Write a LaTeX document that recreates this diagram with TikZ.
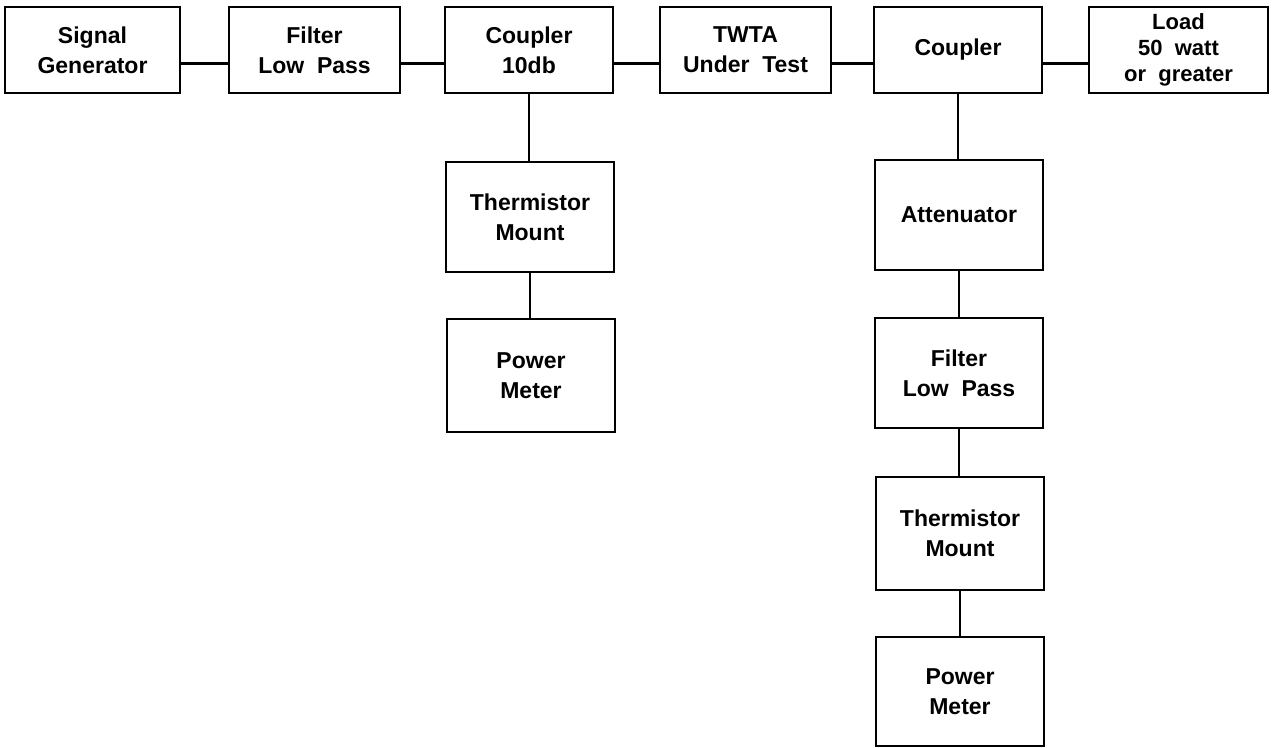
\documentclass[tikz,border=0pt]{standalone}
\usepackage{fontspec}
\setsansfont{Liberation Sans}
\usetikzlibrary{calc}
\begin{document}
\begin{tikzpicture}[x=0.5pt,y=-0.5pt,
  blk/.style={draw,line width=1.4pt,inner sep=0pt,align=center,
    minimum width=84pt,minimum height=55pt,
    font=\sffamily\bfseries\fontsize{11.5}{15}\selectfont},
  top/.style={blk,minimum height=43pt},
  wire/.style={line width=1.2pt}]
\useasboundingbox (0,0) rectangle (1278,748);
\node[top,minimum width=87.5pt] (sig) at (92.5,50) {Signal\\Generator};
\node[top,minimum width=85.5pt] (filt) at (314.5,50) {Filter\\Low\ \ Pass};
\node[top] (cpl) at (529,50) {Coupler\\10db};
\node[top,minimum width=85.5pt] (twta) at (745.5,50) {TWTA\\Under\ \ Test};
\node[top] (cplr) at (958,50) {Coupler};
\node[top,minimum width=89.5pt,font=\sffamily\bfseries\fontsize{11}{13}\selectfont]
  (load) at (1178.5,50) {Load\\50\ \ watt\\or\ \ greater};
\node[blk] (therm) at (530,217) {Thermistor\\Mount};
\node[blk,minimum height=56.5pt] (pm) at (531,375.5) {Power\\Meter};
\node[blk] (att) at (959,215) {Attenuator};
\node[blk] (filtr) at (959,373) {Filter\\Low\ \ Pass};
\node[blk,minimum height=56.5pt] (thermr) at (960,533.5) {Thermistor\\Mount};
\node[blk,minimum height=54.5pt] (pmr) at (960,691.5) {Power\\Meter};
% main line
\foreach \a/\b in {sig/filt,filt/cpl,cpl/twta,twta/cplr,cplr/load}
  \draw[wire] ($(\a.south east)!0.35!(\a.north east)$) -- ($(\b.south west)!0.35!(\b.north west)$);
% meter branches
\draw[wire] (cpl.south) -- (cpl.south |- therm.north);
\draw[wire] (therm.south) -- (therm.south |- pm.north);
\draw[wire] (cplr.south) -- (cplr.south |- att.north);
\draw[wire] (att.south) -- (att.south |- filtr.north);
\draw[wire] (filtr.south) -- (filtr.south |- thermr.north);
\draw[wire] (thermr.south) -- (thermr.south |- pmr.north);
\end{tikzpicture}
\end{document}
